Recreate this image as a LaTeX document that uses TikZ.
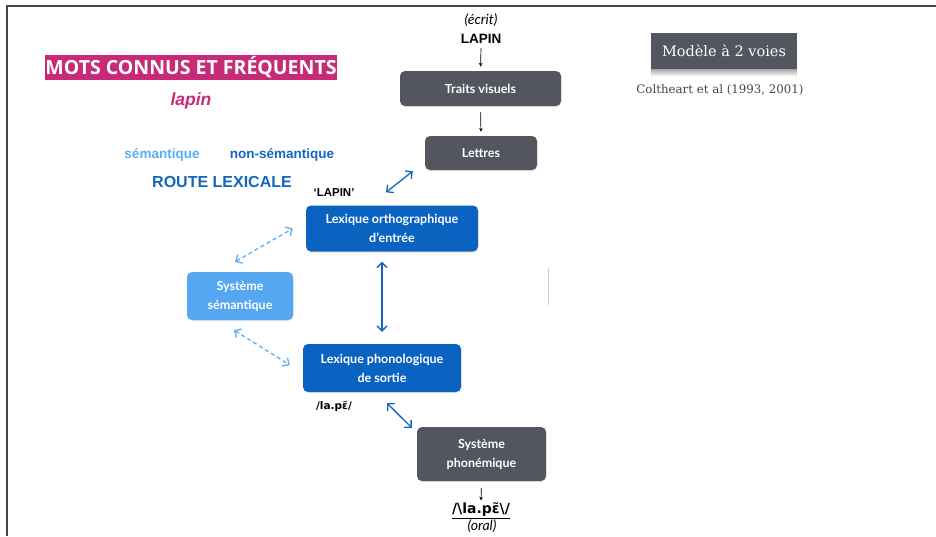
\documentclass[tikz,border=0pt]{standalone}
\usepackage{fontspec}
\setmainfont{Liberation Sans}
\newfontfamily\boxfont{Lato}
\newfontfamily\titlefont{Open Sans}
\newfontfamily\ipafont{DejaVu Sans}
\newfontfamily\slabfont{DejaVu Serif}
\usetikzlibrary{arrows.meta, calc, shadows}
\definecolor{framecol}{HTML}{444444}
\definecolor{darkbox}{HTML}{53565E}
\definecolor{bluebox}{HTML}{0B63C1}
\definecolor{lightbox}{HTML}{55A7F2}
\definecolor{magenta}{HTML}{C72A76}
\definecolor{darkblue}{HTML}{1565C0}
\definecolor{lightblue}{HTML}{5AAEF5}
\definecolor{greytext}{HTML}{444444}

\begin{document}
\begin{tikzpicture}[
    x=1pt, y=-1pt,
    box/.style={rounded corners=5pt, text=white, align=center,
        font=\boxfont\bfseries\fontsize{12.5}{19}\selectfont,
        inner sep=0pt, drop shadow={shadow xshift=0.6pt, shadow yshift=-1pt, opacity=0.2}},
    greybox/.style={box, fill=darkbox},
    bluebx/.style={box, fill=bluebox},
    lightbx/.style={box, fill=lightbox},
    word/.style={font=\bfseries\fontsize{13.5}{15}\selectfont},
    quote/.style={font=\bfseries\fontsize{11.5}{13}\selectfont},
    note/.style={font=\boxfont\itshape\fontsize{14}{16}\selectfont},
    blackarr/.style={black, line width=0.7pt, -{Stealth[length=4pt, width=3.5pt]}},
    bluearr/.style={darkblue, line width=1.3pt, {Straight Barb[length=5pt]}-{Straight Barb[length=5pt]}},
    dasharr/.style={lightblue, line width=1.3pt, dashed, dash pattern=on 4pt off 3pt,
        {Straight Barb[length=5pt]}-{Straight Barb[length=5pt]}},
]
\useasboundingbox (0,0) rectangle (936,536);

% page frame
\draw[framecol, line width=1.5pt] (7,536) -- (7,6) -- (936,6);
\draw[gray!40, line width=0.6pt] (548,268) -- (548,305);

% left column
\node[fill=magenta, text=white, minimum width=292, minimum height=25, inner sep=0pt,
    font=\titlefont\bfseries\fontsize{19.5}{21}\selectfont] (mots) at (191,67.5)
    {MOTS CONNUS ET FRÉQUENTS};
\node[text=magenta, font=\bfseries\itshape\fontsize{17.5}{19}\selectfont] (lapinit) at (191,101) {lapin};
\node[text=lightblue, font=\bfseries\fontsize{13.5}{15}\selectfont] (sem) at (162,155) {sémantique};
\node[text=darkblue, font=\bfseries\fontsize{13.5}{15}\selectfont] (nonsem) at (282,155) {non-sémantique};
\node[text=darkblue, font=\bfseries\fontsize{16}{18}\selectfont] (route) at (222,182) {ROUTE LEXICALE};

% title on the right
\node[fill=darkbox, text=white, minimum width=146, minimum height=36, inner sep=0pt,
    font=\slabfont\fontsize{14.5}{16}\selectfont] (modele) at (724,51) {Modèle à 2 voies};
\shade[top color=black!35, bottom color=white] (modele.south west) rectangle ($(modele.south east)+(0,7)$);
\node[text=greytext, font=\slabfont\fontsize{11.8}{13}\selectfont] (ref) at (720,90)
    {Coltheart et al (1993, 2001)};

% written input
\node[note] (ecrit) at (481,20) {(écrit)};
\node[word] (lapin) at (481,39) {LAPIN};

% boxes
\node[greybox, minimum width=161, minimum height=35] (traits) at (480.5,88.5) {Traits visuels};
\node[greybox, minimum width=112, minimum height=34] (lettres) at (481,153) {Lettres};
\node[bluebx, minimum width=172, minimum height=46] (ortho) at (392,228.5)
    {Lexique orthographique\\d’entrée};
\node[lightbx, minimum width=106, minimum height=48] (semsys) at (240,296)
    {Système\\sémantique};
\node[bluebx, minimum width=158, minimum height=48] (phono) at (382,368)
    {Lexique phonologique\\de sortie};
\node[greybox, minimum width=129, minimum height=54] (phonem) at (481.5,454)
    {Système\\phonémique};

% labels beside the boxes
\node[quote] (lapinq) at (334,193) {‘LAPIN’};
\node[font=\ipafont\bfseries\fontsize{10.5}{12}\selectfont] (phon) at (334,406) {/la.pɛ̃/};
\node[font=\ipafont\bfseries\fontsize{14}{16}\selectfont] (oralw) at (481,511)
    {\underline{/\textbackslash la.pɛ̃\textbackslash/}};
\node[note] (oral) at (482,526) {(oral)};

% connectors
\draw[blackarr, shorten <=1pt, shorten >=4pt] (lapin.south) -- (traits.north);
\draw[blackarr, shorten <=6pt, shorten >=4pt] (traits.south) -- (lettres.north);
\draw[bluearr] ($(ortho.north)+(-6,-13)$) -- ($(lettres.south west)+(-12,1)$);
\draw[bluearr, shorten <=10pt, shorten >=12pt] (phono.north |- ortho.south) -- (phono.north);
\draw[dasharr] ($(semsys.north)+(-5,-10)$) -- ($(ortho.west)+(-13,0)$);
\draw[dasharr] ($(semsys.south)+(-6,10)$) -- ($(phono.west)+(-13,-3)$);
\draw[bluearr] ($(phono.south)+(5,11)$) -- ($(phonem.north west)+(-5,1)$);
\draw[blackarr, shorten <=7pt] (phonem.south) -- ($(oralw.north)+(0,1)$);
\end{tikzpicture}
\end{document}
